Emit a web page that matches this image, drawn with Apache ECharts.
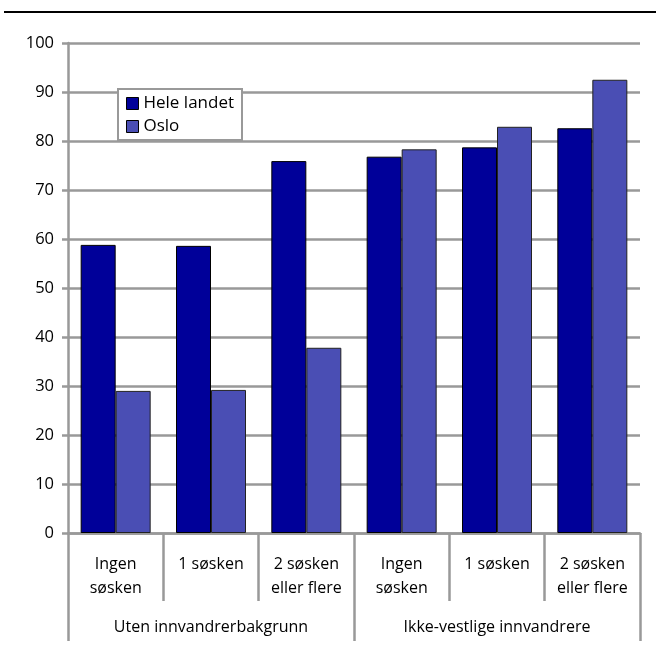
<!DOCTYPE html>
<html><head><meta charset="utf-8">
<script src="https://cdn.jsdelivr.net/npm/echarts@6/dist/echarts.min.js"></script>
<style>html,body{margin:0;padding:0;background:#fff}#c{width:656px;height:651px}</style>
</head><body><div id="c"></div>
<script>
const categories = ['Ingen\nsøsken','1 søsken','2 søsken\neller flere','Ingen\nsøsken','1 søsken','2 søsken\neller flere'];
const groups = ['Uten innvandrerbakgrunn','Ikke-vestlige innvandrere'];
const seriesNames = ['Hele landet','Oslo'];
const heleLandet = [58.8, 58.6, 75.9, 76.8, 78.7, 82.6];
const oslo = [29.0, 29.2, 37.8, 78.3, 82.9, 92.5];
const yTicks = [0,10,20,30,40,50,60,70,80,90,100];

const FONT = 'Open Sans';
const GRAY = '#999999';
const chart = echarts.init(document.getElementById('c'));
chart.setOption({
  animation:false,
  textStyle:{fontFamily:FONT},
  graphic:[{type:'line',shape:{x1:4,y1:12,x2:656,y2:12},style:{stroke:'#000',lineWidth:2}}],
  legend:{
    orient:'vertical', left:118, top:89, data:seriesNames,
    itemWidth:12, itemHeight:12, itemGap:6,
    padding:[6,8,5,8],
    borderColor:GRAY, borderWidth:2, backgroundColor:'#fff',
    icon:'rect',
    textStyle:{fontFamily:FONT,fontSize:17,color:'#000'},
    itemStyle:{borderColor:'#000',borderWidth:1}
  },
  grid:{left:68,right:16,top:43,bottom:118,containLabel:false},
  xAxis:[{
    type:'category', data:categories, position:'bottom',
    axisLine:{show:true,lineStyle:{color:GRAY,width:2.5}},
    axisTick:{show:true,length:68,lineStyle:{color:GRAY,width:2.5}},
    axisLabel:{color:'#000',fontSize:16,lineHeight:24,margin:19,interval:0,verticalAlign:'top'}
  },{
    type:'category', data:groups, position:'bottom',
    axisLine:{show:false},
    axisTick:{show:true,length:108,lineStyle:{color:GRAY,width:2.5}},
    axisLabel:{color:'#000',fontSize:16,margin:86,interval:0},
    splitLine:{show:false}
  }],
  yAxis:{
    type:'value', min:yTicks[0], max:yTicks[yTicks.length-1], interval:10,
    axisLine:{show:true,lineStyle:{color:GRAY,width:2.5}},
    axisTick:{show:true,length:6,lineStyle:{color:GRAY,width:2.5}},
    axisLabel:{color:'#000',fontSize:16.5,margin:14},
    splitLine:{lineStyle:{color:GRAY,width:2.5}}
  },
  series:[{
    name:seriesNames[0], type:'bar', data:heleLandet, barWidth:35, barGap:'0%',
    itemStyle:{color:'#000099',borderColor:'#000',borderWidth:1}
  },{
    name:seriesNames[1], type:'bar', data:oslo, barWidth:35,
    itemStyle:{color:'#4a4eb4',borderColor:'#222',borderWidth:1}
  }]
});
</script></body></html>
